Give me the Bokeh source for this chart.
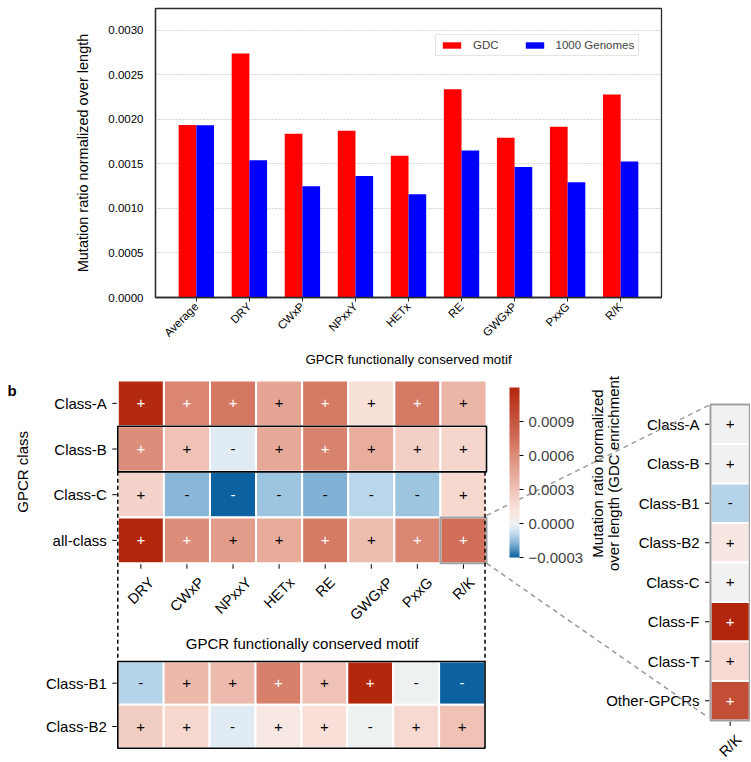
import math
from bokeh.plotting import figure
from bokeh.models import (ColumnDataSource, Range1d, FixedTicker, NumeralTickFormatter,
                          Label, LinearColorMapper, ColorBar, CustomJSTickFormatter)
from bokeh.layouts import column
from bokeh.core.properties import value
from bokeh.embed import file_html
from bokeh.resources import INLINE

FONT = "Liberation Sans"

# ---------------- data: panel a ----------------
bar_motifs = ["Average", "DRY", "CWxP", "NPxxY", "HETx", "RE", "GWGxP", "PxxG", "R/K"]
gdc_ratio = [0.001936, 0.002739, 0.001839, 0.001873, 0.001591, 0.002338, 0.001795, 0.001918, 0.002278]
g1000_ratio = [0.001935, 0.001542, 0.001249, 0.001364, 0.001159, 0.001650, 0.001464, 0.001293, 0.001527]
bar_yticks = [0.0, 0.0005, 0.0010, 0.0015, 0.0020, 0.0025, 0.0030]

# ---------------- data: panel b ----------------
motifs = ["DRY", "CWxP", "NPxxY", "HETx", "RE", "GWGxP", "PxxG", "R/K"]
main_classes = ["Class-A", "Class-B", "Class-C", "all-class"]
enrich_class_a = [0.00117, 0.00063, 0.00070, 0.00046, 0.00069, 0.00013, 0.00069, 0.00037]
enrich_class_b = [0.00059, 0.00030, -0.00004, 0.00044, 0.00065, 0.00042, 0.00022, 0.00019]
enrich_class_c = [0.00020, -0.000165, -0.00030, -0.00014, -0.000175, -0.00010, -0.00014, 0.00018]
enrich_all = [0.00120, 0.00059, 0.00051, 0.00043, 0.00069, 0.00033, 0.000625, 0.00075]
lower_classes = ["Class-B1", "Class-B2"]
enrich_class_b1 = [-0.000105, 0.00035, 0.00034, 0.00066, 0.00030, 0.00119, -0.000005, -0.00030]
enrich_class_b2 = [0.00024, 0.00018, -0.00004, 0.00008, 0.00014, -0.000005, 0.00017, 0.00030]
rk_classes = ["Class-A", "Class-B", "Class-B1", "Class-B2", "Class-C", "Class-F", "Class-T", "Other-GPCRs"]
enrich_rk = [0.000005, 0.000005, -0.000105, 0.00009, 0.000005, 0.00120, 0.00016, 0.00095]
cbar_ticks = [-0.0003, 0.0, 0.0003, 0.0006, 0.0009]
cbar_low, cbar_high = -0.0003, 0.0012

# ================= panel a: bar chart =================
xpos = list(range(len(bar_motifs)))
pa = figure(width=743, height=370, x_range=Range1d(-0.77, len(bar_motifs) - 1 + 0.77),
            y_range=Range1d(0, 0.003245), output_backend="svg", toolbar_location=None,
            min_border_left=155, min_border_right=82, min_border_top=8, min_border_bottom=71,
            frame_align=False)
src = ColumnDataSource(dict(x=xpos, motif=bar_motifs, gdc=gdc_ratio, g1000=g1000_ratio,
                            xg=[x - 1/6 for x in xpos], xk=[x + 1/6 for x in xpos]))
pa.vbar(x="xg", top="gdc", width=1/3, source=src,
        fill_color="#ff0000", line_color=None, legend_label="GDC")
pa.vbar(x="xk", top="g1000", width=1/3, source=src,
        fill_color="#0000ff", line_color=None, legend_label="1000 Genomes")

yt = FixedTicker(ticks=bar_yticks)
pa.yaxis.ticker = yt
pa.ygrid.ticker = yt
pa.yaxis.formatter = NumeralTickFormatter(format="0.0000")
pa.xaxis.ticker = FixedTicker(ticks=xpos)
pa.xaxis.major_label_overrides = {x: m for x, m in zip(xpos, bar_motifs)}
pa.xgrid.grid_line_color = None
pa.ygrid.grid_line_color = "#b0b0b0"
pa.ygrid.grid_line_dash = "1 2"
pa.ygrid.grid_line_width = 1
pa.outline_line_color = "#2b2b2b"
pa.outline_line_width = 1.3
for ax in (pa.xaxis, pa.yaxis):
    ax.axis_line_color = "#2b2b2b"
    ax.axis_line_width = 1.3
    ax.minor_tick_line_color = None
    ax.major_label_text_font = FONT
    ax.major_label_text_font_size = "11.5px"
    ax.major_label_text_color = "black"
    ax.axis_label_text_font = FONT
    ax.axis_label_text_font_style = "normal"
    ax.axis_label_text_color = "black"
pa.yaxis.major_tick_line_color = None
pa.yaxis.major_label_standoff = 6
pa.yaxis.axis_label = "Mutation ratio normalized over length"
pa.yaxis.axis_label_text_font_size = "14.5px"
pa.yaxis.axis_label_standoff = 14
pa.xaxis.major_tick_in = 0
pa.xaxis.major_tick_out = 4
pa.xaxis.major_tick_line_color = "#2b2b2b"
pa.xaxis.major_label_orientation = math.pi / 4
pa.xaxis.major_label_standoff = 3
pa.xaxis.axis_label = "GPCR functionally conserved motif"
pa.xaxis.axis_label_text_font_size = "13.3px"
pa.xaxis.axis_label_standoff = 6

leg = pa.legend[0]
leg.location = (280, 241)
leg.orientation = "horizontal"
leg.label_text_font = FONT
leg.label_text_font_size = "11.5px"
leg.glyph_width = 23
leg.glyph_height = 8
leg.label_height = 12
leg.label_standoff = 10
leg.spacing = 24
leg.padding = 4
leg.margin = 0
leg.border_line_color = "#cccccc"
leg.border_line_width = 1.2

pa.add_layout(Label(x=-148, y=272, x_units="screen", y_units="screen", text="a",
                    text_font=FONT, text_font_style="bold", text_font_size="15px"))

# ================= panel b: heatmaps =================
PB_L, PB_R, PB_T, PB_B = 0.0, 750.0, 370.0, 761.0
MAIN = dict(x0=117.3, x1=486.0, y0=380.0, y1=562.7)
LOW = dict(x0=117.3, x1=484.5, y0=661.0, y1=747.7)
RK = dict(x0=710.0, x1=749.3, y0=404.0, y1=720.0)


def block_ranges(b, ncol, nrow):
    sx = (b["x1"] - b["x0"]) / ncol
    sy = (b["y1"] - b["y0"]) / nrow
    return (Range1d((PB_L - b["x0"]) / sx, (PB_R - b["x0"]) / sx),
            Range1d((PB_B - b["y0"]) / sy, (PB_T - b["y0"]) / sy))


pb = figure(width=int(PB_R - PB_L), height=int(PB_B - PB_T),
            x_range=Range1d(PB_L, PB_R), y_range=Range1d(PB_B, PB_T),
            output_backend="svg", toolbar_location=None,
            x_axis_location=None, y_axis_location=None, min_border=0, frame_align=False)
pb.grid.visible = False
pb.outline_line_color = None

mx, my = block_ranges(MAIN, len(motifs), len(main_classes))
lx, ly = block_ranges(LOW, len(motifs), len(lower_classes))
rx, ry = block_ranges(RK, 1, len(rk_classes))
pb.extra_x_ranges = {"mx": mx, "lx": lx, "rx": rx}
pb.extra_y_ranges = {"my": my, "ly": ly, "ry": ry}


def lerp_hex(c1, c2, f):
    a = [int(c1[i:i + 2], 16) for i in (1, 3, 5)]
    b = [int(c2[i:i + 2], 16) for i in (1, 3, 5)]
    return "#%02x%02x%02x" % tuple(round(a[k] + (b[k] - a[k]) * f) for k in range(3))


NEG_STOPS = [(0.0, "#f2f2f2"), (0.15, "#dceaf5"), (0.35, "#b4d3e8"), (0.55, "#8cb9d9"),
             (0.75, "#5593c2"), (1.0, "#0a5f9f")]
POS_STOPS = [(0.0, "#f2f2f2"), (0.1, "#f9e3dc"), (0.28, "#edbcae"), (0.49, "#dd8f7b"),
             (0.63, "#d06d58"), (1.0, "#b2260c")]


def stop_color(stops, t):
    for (t0, c0), (t1, c1) in zip(stops[:-1], stops[1:]):
        if t <= t1:
            return lerp_hex(c0, c1, (t - t0) / (t1 - t0))
    return stops[-1][1]


NPAL = 300
palette = []
for i in range(NPAL):
    v = cbar_low + (i + 0.5) * (cbar_high - cbar_low) / NPAL
    palette.append(stop_color(NEG_STOPS, v / cbar_low) if v < 0 else stop_color(POS_STOPS, v / cbar_high))
mapper = LinearColorMapper(palette=palette, low=cbar_low, high=cbar_high,
                           low_color=palette[0], high_color=palette[-1])

AW = {'D': .722, 'R': .722, 'Y': .667, 'C': .722, 'W': .944, 'x': .5, 'P': .667, 'N': .722,
      'H': .722, 'E': .667, 'T': .611, 'G': .778, '/': .278, 'K': .667}
LBL = "15px"


def rot_half(s, fs=14.5):
    w = sum(AW.get(ch, 0.6) for ch in s) * fs
    return (w + 0.716 * fs) * math.sin(math.pi / 4) / 2


def heatmap(xn, yn, cols, rows, vals, xlabels):
    pb.scatter(x=[0] * len(rows), y=[r + 0.5 for r in range(len(rows))], marker="dash", size=11,
               line_color="black", line_width=1, x_range_name=xn, y_range_name=yn)
    pb.text(x=[0] * len(rows), y=[r + 0.5 for r in range(len(rows))], text=rows, x_offset=-11,
            text_align="right", text_baseline="middle", text_font=value(FONT), text_font_size=LBL,
            text_color="black", x_range_name=xn, y_range_name=yn)
    if xlabels:
        nr = len(rows)
        pb.scatter(x=[c + 0.5 for c in range(len(cols))], y=[nr] * len(cols), marker="dash", size=11,
                   angle=math.pi / 2, line_color="black", line_width=1, x_range_name=xn, y_range_name=yn)
        pb.text(x=[c + 0.5 for c in range(len(cols))], y=[nr] * len(cols), text=cols,
                y_offset=[13 + rot_half(s) for s in cols], angle=math.pi / 4,
                text_align="center", text_baseline="middle", text_font=value(FONT),
                text_font_size="14.5px", text_color="black", x_range_name=xn, y_range_name=yn)
    xs, ys, vs, tx, tc = [], [], [], [], []
    for r, row in enumerate(vals):
        for c, v in enumerate(row):
            xs.append(c + 0.5)
            ys.append(r + 0.5)
            vs.append(v)
            tx.append("+" if v > 0 else "-")
            tc.append("white" if (v >= 0.00055 or v <= -0.00025) else "black")
    s = ColumnDataSource(dict(x=xs, y=ys, v=vs, t=tx, tc=tc))
    pb.rect("x", "y", 1, 1, source=s, fill_color={"field": "v", "transform": mapper},
            line_color="white", line_width=2, x_range_name=xn, y_range_name=yn)
    pb.text("x", "y", text="t", text_color="tc", source=s, text_align="center",
            text_baseline="middle", text_font=value(FONT), text_font_size="15px",
            x_range_name=xn, y_range_name=yn)


heatmap("mx", "my", motifs, main_classes,
        [enrich_class_a, enrich_class_b, enrich_class_c, enrich_all], True)
heatmap("lx", "ly", motifs, lower_classes, [enrich_class_b1, enrich_class_b2], False)
heatmap("rx", "ry", ["R/K"], rk_classes, [[v] for v in enrich_rk], True)

# boxes
pb.rect(x=[len(motifs) / 2], y=[1.5], width=len(motifs), height=1, fill_color=None,
        line_color="black", line_width=1.6, x_range_name="mx", y_range_name="my")
pb.rect(x=[len(motifs) - 0.5], y=[3.5], width=1, height=1, fill_color=None,
        line_color="#a0a0a0", line_width=2, x_range_name="mx", y_range_name="my")
pb.rect(x=[len(motifs) / 2], y=[1], width=len(motifs), height=2, fill_color=None,
        line_color="black", line_width=1.6, x_range_name="lx", y_range_name="ly")
pb.rect(x=[0.5], y=[len(rk_classes) / 2], width=1, height=len(rk_classes), fill_color=None,
        line_color="#a0a0a0", line_width=2, x_range_name="rx", y_range_name="ry")

# connectors
row_h = (MAIN["y1"] - MAIN["y0"]) / len(main_classes)
yb = MAIN["y0"] + 2 * row_h
pb.segment(x0=[MAIN["x0"], MAIN["x1"] - 1.5], y0=[yb, yb], x1=[MAIN["x0"], MAIN["x1"] - 1.5],
           y1=[LOW["y0"], LOW["y0"]], line_color="black", line_width=1.5, line_dash="4 3")
pb.segment(x0=[MAIN["x1"], MAIN["x1"]], y0=[MAIN["y0"] + 3 * row_h - 2, MAIN["y1"]],
           x1=[RK["x0"], RK["x0"] - 2], y1=[RK["y0"], RK["y1"] - 3],
           line_color="#9a9a9a", line_width=1.5, line_dash="5 4")

# colorbar
cb = ColorBar(color_mapper=mapper, ticker=FixedTicker(ticks=cbar_ticks),
              formatter=CustomJSTickFormatter(code="return (tick < -1e-12 ? '\u2212' : '') + Math.abs(tick).toFixed(4);"),
              width=10, height=170, location=(509, int(PB_B - 556.7)), padding=0, margin=0,
              major_label_text_font=FONT, major_label_text_font_size="15px",
              major_tick_in=0, major_tick_out=4, major_tick_line_color="black",
              label_standoff=5, bar_line_color=None, border_line_color=None,
              background_fill_color=None)
pb.add_layout(cb)

# panel b texts
pb.text(x=[7], y=[390], text=["b"], text_font=value(FONT), text_font_style="bold",
        text_font_size="15px", text_align="left", text_baseline="alphabetic")
pb.text(x=[21.7], y=[(MAIN["y0"] + MAIN["y1"]) / 2], text=["GPCR class"], angle=math.pi / 2,
        text_font=value(FONT), text_font_size="15px", text_align="center", text_baseline="middle")
pb.text(x=[(MAIN["x0"] + MAIN["x1"]) / 2], y=[643.3], text=["GPCR functionally conserved motif"],
        text_font=value(FONT), text_font_size="15px", text_align="center", text_baseline="middle")
pb.text(x=[597, 613], y=[473, 473],
        text=["Mutation ratio normalized", "over length (GDC enrichment"], angle=math.pi / 2,
        text_font=value(FONT), text_font_size="15px", text_align="center", text_baseline="middle")

layout = column(pa, pb, spacing=0)
open("out.html", "w").write(file_html(layout, INLINE))
